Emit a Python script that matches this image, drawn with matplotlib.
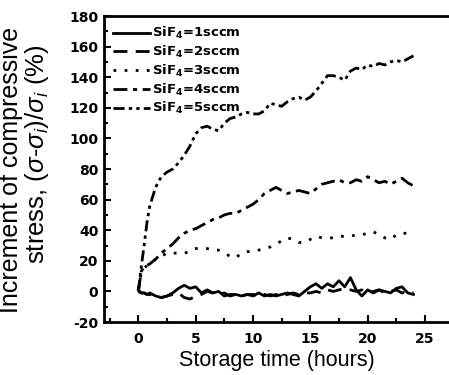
import matplotlib
matplotlib.use('Agg')
import matplotlib.pyplot as plt
from matplotlib.ticker import MultipleLocator

plt.rcParams['font.family'] = ['Liberation Sans', 'DejaVu Sans']
plt.rcParams['mathtext.fontset'] = 'custom'
plt.rcParams['mathtext.rm'] = 'Liberation Sans'
plt.rcParams['mathtext.it'] = 'Liberation Sans:italic'
plt.rcParams['mathtext.bf'] = 'DejaVu Sans:bold'
plt.rcParams['axes.unicode_minus'] = False

# storage time in hours
hours = [0, 0.25, 0.5, 0.75, 1, 1.5, 2, 2.5, 3, 3.5, 4, 4.5, 5, 5.5, 6, 6.5, 7, 7.5, 8, 8.5,
         9, 9.5, 10, 10.5, 11, 11.5, 12, 12.5, 13, 13.5, 14, 14.5, 15, 15.5, 16, 16.5, 17,
         17.5, 18, 18.5, 19, 19.5, 20, 20.5, 21, 21.5, 22, 22.5, 23, 23.5, 24]

# stress increment (%) for each SiF4 flow
sif4_1 = [1, -1, -1, -2, -1, -3, -4, -3, -1, 2, 4, 2, 3, -1, 1, -1, 0, -3, -2, -2,
          -3, -2, -3, -1, -3, -2, -3, -2, -1, -2, -3, 0, 3, 5, 2, 5, 3,
          7, 3, 9, 1, -3, 1, -1, 1, 0, -1, 2, 3, -1, -2]
sif4_2 = [0, -1, -1, -2, -2, -3, -4, -3, -2, -1, -4, -5, -3, -2, 0, -1, -2, -1, -3, -2,
          -3, -2, -2, -3, -2, -3, -2, -3, -2, -1, -2, -1, -1, 0, -1, 1, 0,
          1, 2, 1, 0, 1, -1, 0, 1, -1, 0, 1, -1, 0, -1]
sif4_3 = [2, 12, 15, 17, 19, 21, 23, 25, 25, 25, 25, 26, 28, 28, 28, 27, 27, 25, 23, 22,
          25, 26, 26, 27, 28, 29, 31, 33, 35, 34, 32, 32, 34, 36, 35, 35, 35,
          36, 36, 36, 37, 37, 38, 39, 37, 35, 34, 37, 38, 38, 38]
sif4_4 = [0, 13, 16, 17, 18, 21, 25, 28, 31, 35, 38, 40, 41, 43, 45, 47, 48, 50, 51, 51,
          53, 55, 57, 60, 64, 66, 68, 66, 64, 65, 66, 65, 64, 67, 70, 71, 72,
          73, 71, 71, 73, 72, 75, 73, 71, 72, 70, 72, 74, 71, 69]
sif4_5 = [0, 16, 30, 45, 56, 68, 75, 78, 80, 84, 89, 95, 103, 107, 108, 106, 105, 110, 113, 114,
          116, 117, 116, 116, 118, 123, 122, 121, 124, 126, 127, 125, 127, 131, 136, 141, 141,
          140, 138, 144, 146, 145, 148, 147, 149, 148, 150, 151, 150, 152, 154]

labels = [r'SiF$_{\mathbf{4}}$=1sccm', r'SiF$_{\mathbf{4}}$=2sccm', r'SiF$_{\mathbf{4}}$=3sccm',
          r'SiF$_{\mathbf{4}}$=4sccm', r'SiF$_{\mathbf{4}}$=5sccm']

fig = plt.figure(figsize=(4.49, 3.75), dpi=100)
ax = fig.add_axes([0.2316, 0.1413, 0.7684, 0.8160])

ax.plot(hours, sif4_1, color='black', lw=2, ls='-', label=labels[0])
ax.plot(hours, sif4_2, color='black', lw=2, ls=(0, (5, 3)), label=labels[1])
ax.plot(hours, sif4_3, color='black', lw=2, ls=(0, (1, 3)), label=labels[2])
ax.plot(hours, sif4_4, color='black', lw=2, ls=(0, (5, 2, 1.5, 2)), label=labels[3])
ax.plot(hours, sif4_5, color='black', lw=2, ls=(0, (4, 1.5, 1.2, 1.5, 1.2, 1.5)), label=labels[4])

ax.set_xlim(-3, 27.1)
ax.set_ylim(-20, 180)
ax.xaxis.set_major_locator(MultipleLocator(5))
ax.xaxis.set_minor_locator(MultipleLocator(2.5))
ax.yaxis.set_major_locator(MultipleLocator(20))
ax.yaxis.set_minor_locator(MultipleLocator(10))
ax.tick_params(which='both', direction='in', width=1.5)
ax.tick_params(which='major', length=5)
ax.tick_params(which='minor', length=3)
ax.tick_params(axis='x', pad=7)
ax.tick_params(axis='y', pad=4)
for lab in ax.get_xticklabels() + ax.get_yticklabels():
    lab.set_fontfamily('DejaVu Sans')
    lab.set_fontweight('bold')
    lab.set_fontsize(10)

ax.spines['right'].set_visible(False)
for s in ['left', 'bottom', 'top']:
    ax.spines[s].set_linewidth(2)

ax.set_xlabel('Storage time (hours)', fontsize=15.5, labelpad=3)

# two-line y label, placed by hand
fig.text(11 / 449, 1 - 170 / 375, 'Increment of compressive', rotation=90,
         ha='center', va='center', fontsize=18)
fig.text(37 / 449, 1 - 154 / 375, r'stress, ($\sigma$-$\sigma_i$)/$\sigma_i$ (%)', rotation=90,
         ha='center', va='center', fontsize=18.5)

leg = ax.legend(loc='upper left', frameon=False, handlelength=2.8,
                handletextpad=0.15, labelspacing=0.2, borderaxespad=0.3,
                prop={'family': 'DejaVu Sans', 'weight': 'bold', 'size': 9.5})

fig.savefig('out.png', dpi=100)
